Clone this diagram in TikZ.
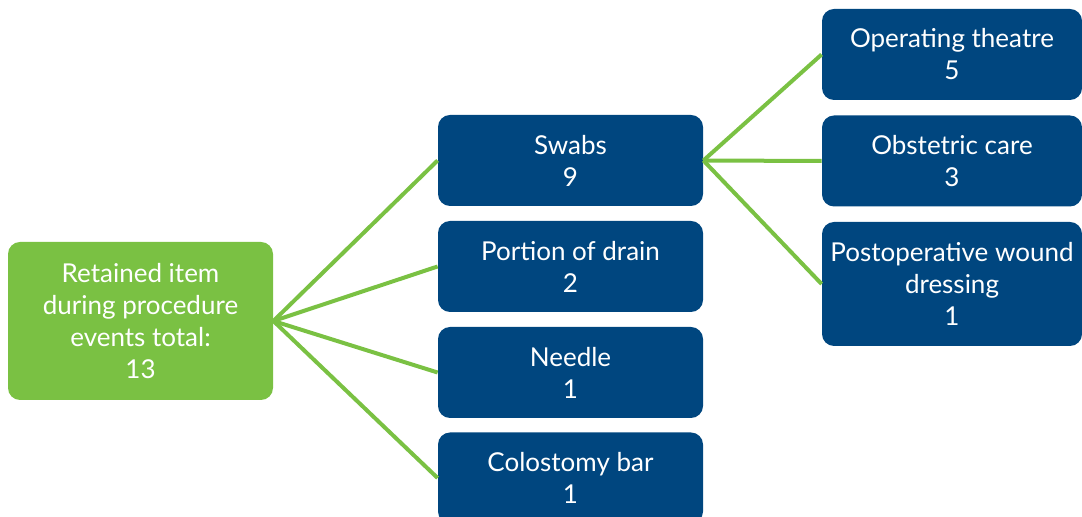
\documentclass[tikz,border=0pt]{standalone}
\usepackage{fontspec}
\setmainfont{Lato}
\definecolor{navy}{RGB}{0,70,127}
\definecolor{leaf}{RGB}{122,193,67}
\begin{document}
\begin{tikzpicture}[x=0.5pt,y=-0.5pt,
    box/.style={rounded corners=6pt, fill=navy, text=white, align=center,
      font=\fontsize{13}{16}\selectfont, inner sep=0pt,
      minimum width=132.5pt, minimum height=45.5pt},
    rootbox/.style={box, fill=leaf, minimum height=79pt},
    link/.style={draw=leaf, line width=2pt}]
  \useasboundingbox (0,0) rectangle (1082,517);
  \clip (0,0) rectangle (1082,517);
  \path
    (140.5,321) node[rootbox] (root){Retained item\\during procedure\\events total:\\13}
    (570.5,160.5) node[box] (swabs){Swabs\\9}
    (570.5,266.5) node[box] (drain){Portion of drain\\2}
    (570.5,372.5) node[box] (needle){Needle\\1}
    (570.5,478) node[box] (bar){Colostomy bar\\1}
    (952,54.5) node[box, minimum width=130pt] (theatre){Operating theatre\\5}
    (952,161) node[box, minimum width=130pt] (obstetric){Obstetric care\\3}
    (952,284) node[box, minimum width=130pt, minimum height=62pt] (wound){Postoperative wound\\dressing\\1};
  \begin{scope}[link]
    \draw (root.east) to (swabs.west);
    \draw (root.east) to (drain.west);
    \draw (root.east) to (needle.west);
    \draw (root.east) to (bar.west);
    \draw (swabs.east) to (theatre.west);
    \draw (swabs.east) to (obstetric.west);
    \draw (swabs.east) to (wound.west);
  \end{scope}
\end{tikzpicture}
\end{document}
